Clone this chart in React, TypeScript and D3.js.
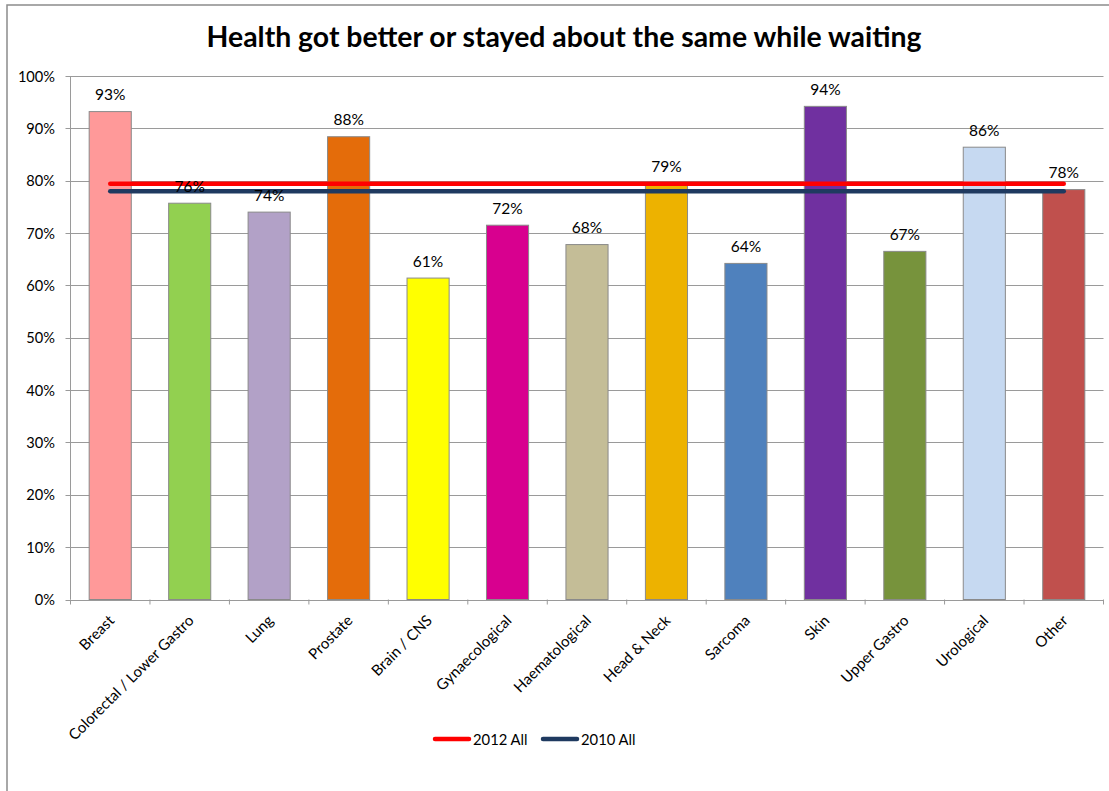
import React from "react";
import * as d3 from "d3";

const categories = [
  "Breast",
  "Colorectal / Lower Gastro",
  "Lung",
  "Prostate",
  "Brain / CNS",
  "Gynaecological",
  "Haematological",
  "Head & Neck",
  "Sarcoma",
  "Skin",
  "Upper Gastro",
  "Urological",
  "Other",
];
const values = [93.2, 75.7, 74.0, 88.4, 61.4, 71.5, 67.8, 79.4, 64.2, 94.2, 66.5, 86.4, 78.3];
const barColors = [
  "#FF9999", "#92D050", "#B2A1C7", "#E46C0A", "#FFFF00", "#D8008F", "#C4BD97",
  "#EDB200", "#4F81BD", "#7030A0", "#77933C", "#C6D9F1", "#C0504D",
];
const yTicks = [0, 10, 20, 30, 40, 50, 60, 70, 80, 90, 100];
const refSeries = [
  { name: "2012 All", value: 79.4, color: "#FF0000" },
  { name: "2010 All", value: 78.0, color: "#1F3A60" },
];

const W = 1109;
const H = 791;
const FONT = "Lato, 'Open Sans', sans-serif";

export default function App() {
  const left = 70.5;
  const right = 1103.5;
  const top = 76;
  const bottom = 599.5;

  const x = d3.scaleBand<string>().domain(categories).range([left, right]).paddingInner(0.47).paddingOuter(0.235);
  const xEdge = d3.scaleLinear().domain([0, categories.length]).range([left, right]);
  const y = d3.scaleLinear().domain([0, 100]).range([bottom, top]);
  const cx = (c: string) => (x(c) as number) + x.bandwidth() / 2;

  const grid = "#9A9A9A";

  return (
    <svg
      width={W}
      height={H}
      style={{ position: "absolute", left: 0, top: 0, background: "#fff" }}
      fontFamily={FONT}
    >
      <rect x={7} y={5} width={1110} height={800} fill="#fff" stroke="#8C8C8C" strokeWidth={1.5} />

      <text x={564} y={47} textAnchor="middle" fontSize={28.4} fontWeight="bold" fill="#000">
        Health got better or stayed about the same while waiting
      </text>

      {/* horizontal gridlines and value-axis labels */}
      {yTicks.map((t) => (
        <g key={t}>
          <line x1={left - 5} x2={right} y1={Math.round(y(t)) + 0.5} y2={Math.round(y(t)) + 0.5} stroke={grid} strokeWidth={1} />
          <text x={55} y={y(t) + 5.5} textAnchor="end" fontSize={14.6} fill="#000">
            {t}%
          </text>
        </g>
      ))}
      <line x1={left} x2={left} y1={top} y2={bottom} stroke={grid} strokeWidth={1} />

      {/* category tick marks */}
      {d3.range(categories.length + 1).map((i) => (
        <line key={i} x1={xEdge(i)} x2={xEdge(i)} y1={bottom} y2={bottom + 5} stroke={grid} strokeWidth={1} />
      ))}

      {/* bars */}
      {categories.map((c, i) => (
        <rect
          key={c}
          x={x(c)}
          y={y(values[i])}
          width={x.bandwidth()}
          height={bottom - y(values[i])}
          fill={barColors[i]}
          stroke="#8A8A8A"
          strokeWidth={1}
        />
      ))}

      {/* reference lines */}
      {refSeries.map((s) => (
        <line
          key={s.name}
          x1={cx(categories[0])}
          x2={cx(categories[categories.length - 1])}
          y1={y(s.value)}
          y2={y(s.value)}
          stroke={s.color}
          strokeWidth={4.5}
          strokeLinecap="round"
        />
      ))}

      {/* data labels */}
      {categories.map((c, i) => (
        <text key={c} x={cx(c)} y={y(values[i]) - 11.5} textAnchor="middle" fontSize={15.5} fill="#000">
          {Math.round(values[i])}%
        </text>
      ))}

      {/* rotated category labels */}
      {categories.map((c) => (
        <text
          key={c}
          transform={`translate(${cx(c) + 5},${bottom + 22}) rotate(-45)`}
          textAnchor="end"
          fontSize={15}
          fill="#000"
        >
          {c}
        </text>
      ))}

      {/* legend */}
      {refSeries.map((s, i) => {
        const lx = 435 + i * 108;
        return (
          <g key={s.name}>
            <line x1={lx} x2={lx + 34} y1={739} y2={739} stroke={s.color} strokeWidth={4.5} strokeLinecap="round" />
            <text x={lx + 38} y={744.5} fontSize={14.8} fill="#000">
              {s.name}
            </text>
          </g>
        );
      })}
    </svg>
  );
}
